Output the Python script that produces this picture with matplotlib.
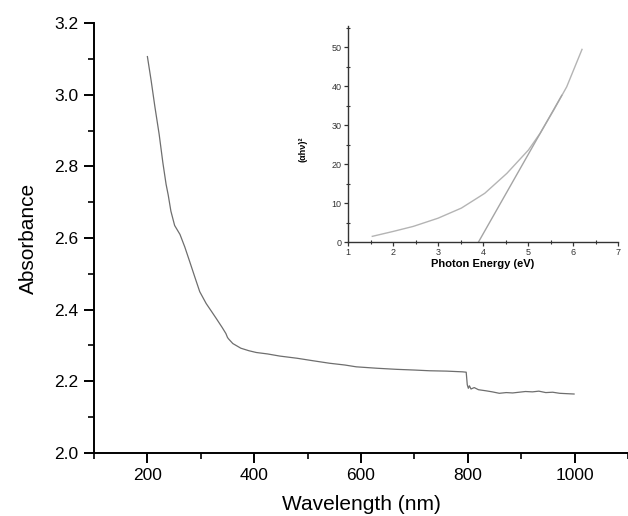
import matplotlib
matplotlib.use("Agg")
import matplotlib.pyplot as plt
from matplotlib.ticker import MultipleLocator

plt.rcParams['font.family'] = ['Liberation Sans', 'DejaVu Sans']

# Main spectrum: wavelength (nm) vs absorbance
wavelength = [200, 207, 214, 222, 229, 235, 239, 244, 251, 261, 270, 279, 289, 298,
              310, 320, 329, 340, 347, 350, 352, 360, 375, 390, 404, 425, 448,
              480, 510, 541, 570, 591, 630, 666, 700, 728, 760, 790, 797,
              799, 801, 803, 806, 812, 820, 834, 846, 859, 872, 884, 896, 908,
              921, 933, 946, 959, 972, 985, 999]
absorbance = [3.107, 3.04, 2.967, 2.89, 2.81, 2.75, 2.72, 2.675, 2.635, 2.61, 2.575, 2.535,
              2.49, 2.45, 2.417, 2.395, 2.375, 2.35, 2.333, 2.322, 2.318, 2.305,
              2.292, 2.285, 2.280, 2.276, 2.270, 2.264, 2.257, 2.250, 2.245, 2.240,
              2.236, 2.233, 2.231, 2.229, 2.228, 2.226, 2.225,
              2.19, 2.18, 2.187, 2.178, 2.182, 2.176, 2.173, 2.170, 2.166, 2.168,
              2.167, 2.169, 2.171, 2.170, 2.172, 2.168, 2.169, 2.166, 2.165, 2.164]

# Inset: Tauc plot
energy = [1.54, 2.0, 2.45, 3.0, 3.52, 4.04, 4.53, 5.01, 5.27, 5.57, 5.86, 6.2]
alpha_hv2 = [1.45, 2.7, 4.0, 6.1, 8.7, 12.5, 17.6, 23.6, 27.9, 33.8, 39.8, 49.4]
tangent_energy = [3.9, 5.75]
tangent_value = [0.0, 37.6]

fig = plt.figure(figsize=(6.28, 5.16), dpi=100)
ax = fig.add_axes([94/628, (516-452.7)/516, (628-94)/628, (452.7-23.3)/516])
ax.plot(wavelength, absorbance, color='#6e6e6e', lw=0.9)
ax.set_xlim(100, 1100)
ax.set_ylim(2.0, 3.2)
ax.xaxis.set_major_locator(MultipleLocator(200))
ax.xaxis.set_minor_locator(MultipleLocator(100))
ax.yaxis.set_major_locator(MultipleLocator(0.2))
ax.yaxis.set_minor_locator(MultipleLocator(0.1))
ax.yaxis.set_major_formatter(matplotlib.ticker.FormatStrFormatter('%.1f'))
for s in ['top', 'right']:
    ax.spines[s].set_visible(False)
for s in ['left', 'bottom']:
    ax.spines[s].set_linewidth(1.4)
ax.tick_params(which='major', direction='out', length=7, width=1.4, labelsize=12.5, pad=4)
ax.tick_params(which='minor', direction='out', length=4, width=1.2)
ax.set_xlabel('Wavelength (nm)', fontsize=15, labelpad=9)
ax.set_ylabel('Absorbance', fontsize=15, labelpad=12)

# Inset
ins = fig.add_axes([348/628, (516-242)/516, (618-348)/628, (242-26)/516])
ins.plot(energy, alpha_hv2, color='#b4b4b4', lw=1.0)
ins.plot(tangent_energy, tangent_value, color='#a4a4a4', lw=1.0)
ins.set_xlim(1, 7)
ins.set_ylim(0, 55.4)
ins.xaxis.set_major_locator(MultipleLocator(1))
ins.xaxis.set_minor_locator(MultipleLocator(0.5))
ins.yaxis.set_major_locator(MultipleLocator(10))
ins.yaxis.set_minor_locator(MultipleLocator(5))
for s in ['top', 'right']:
    ins.spines[s].set_visible(False)
for s in ['left', 'bottom']:
    ins.spines[s].set_linewidth(1.0)
    ins.spines[s].set_color('#333333')
ins.tick_params(which='major', direction='out', length=3, width=0.9, labelsize=6.5, pad=1.5, colors='#333333')
ins.tick_params(which='minor', direction='inout', length=2.5, width=0.8, colors='#333333')
ins.set_xlabel('Photon Energy (eV)', fontsize=8, fontweight='bold', labelpad=1)
ins.set_ylabel('(αhν)²', fontsize=6.5, fontweight='bold')
ins.yaxis.set_label_coords(-0.15, 0.43)

fig.savefig('out.png', dpi=100)
